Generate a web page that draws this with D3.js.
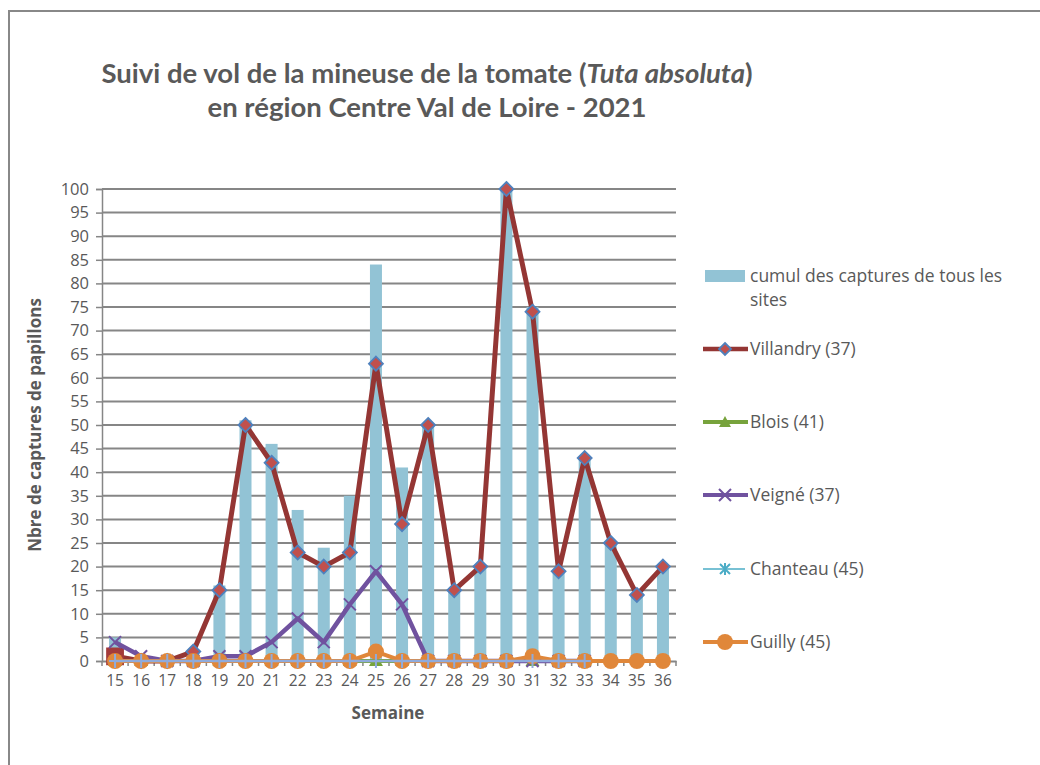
<!DOCTYPE html>
<html><head><meta charset="utf-8">
<script src="https://cdn.jsdelivr.net/npm/d3@7"></script>
<style>body{margin:0;background:#fff;} text{font-family:Lato,"Open Sans",sans-serif;}</style>
</head><body>
<svg id="c" width="1040" height="765"></svg>
<script>
const weeks = [15,16,17,18,19,20,21,22,23,24,25,26,27,28,29,30,31,32,33,34,35,36];
const cumul     = [5,1,0,2,16,51,46,32,24,35,84,41,50,15,20,100,75,19,43,25,14,20];
const villandry = [1,0,0,2,15,50,42,23,20,23,63,29,50,15,20,100,74,19,43,25,14,20];
const blois     = [0,0,0,0,0,0,0,0,0,0,0,0,0,0,0,0,0,0,0,null,null,null];
const veigne    = [4,1,0,0,1,1,4,9,4,12,19,12,0,0,0,0,0,0,0,null,null,null];
const chanteau  = [0,0,0,0,0,0,0,0,0,0,0,0,0,0,0,0,0,0,0,null,null,null];
const guilly    = [0,0,0,0,0,0,0,0,0,0,2,0,0,0,0,0,1,0,0,0,0,0];
const yTicks = d3.range(0,101,5);

const svg = d3.select("#c");
const grey = "#595959";
// outer border
svg.append("rect").attr("x",9).attr("y",11).attr("width",1100).attr("height",900)
  .attr("fill","none").attr("stroke","#888").attr("stroke-width",2);

const L=102, R=676, T=189, B=661;
const x = d3.scaleBand().domain(weeks).range([L,R]);
const y = d3.scaleLinear().domain([0,100]).range([B,T]);

// gridlines
svg.append("g").selectAll("line").data(yTicks.filter(d=>d>0)).join("line")
  .attr("x1",L).attr("x2",R).attr("y1",d=>y(d)).attr("y2",d=>y(d))
  .attr("stroke","#868686").attr("stroke-width",2);

// y axis
const ya = svg.append("g").attr("transform",`translate(${L},0)`)
  .call(d3.axisLeft(y).tickValues(yTicks).tickSize(6).tickPadding(7));
ya.select(".domain").attr("stroke","#868686").attr("stroke-width",1.5);
ya.selectAll(".tick line").attr("stroke","#868686").attr("stroke-width",1.5);
ya.selectAll("text").attr("fill",grey).style("font-size","16.5px").style("font-family","'Open Sans',sans-serif");

// bars
const bw = 12;
svg.append("g").selectAll("rect").data(weeks).join("rect")
  .attr("x",(d)=>x(d)+x.bandwidth()/2-bw/2).attr("width",bw)
  .attr("y",(d,i)=>y(cumul[i])).attr("height",(d,i)=>B-y(cumul[i]))
  .attr("fill","#92c3d5");

// x axis
const xa = svg.append("g").attr("transform",`translate(0,${B})`)
  .call(d3.axisBottom(x).tickSize(0).tickPadding(14));
xa.select(".domain").attr("stroke","#868686").attr("stroke-width",2);
xa.selectAll("text").attr("fill",grey).style("font-size","15.5px").style("font-family","'Open Sans',sans-serif");
svg.append("g").selectAll("line").data(d3.range(weeks.length+1)).join("line")
  .attr("x1",i=>L+i*x.bandwidth()).attr("x2",i=>L+i*x.bandwidth())
  .attr("y1",B).attr("y2",B+5).attr("stroke","#868686").attr("stroke-width",1.5);

const cx = d=>x(d)+x.bandwidth()/2;
function lineOf(vals){
  return d3.line().defined(d=>d[1]!=null).x(d=>cx(d[0])).y(d=>y(d[1]))(weeks.map((w,i)=>[w,vals[i]]));
}
function pts(vals){ return weeks.map((w,i)=>[w,vals[i]]).filter(d=>d[1]!=null); }

// Villandry
svg.append("path").attr("d",lineOf(villandry)).attr("fill","none").attr("stroke","#943634").attr("stroke-width",5).attr("stroke-linejoin","round");
svg.append("g").selectAll("path").data(pts(villandry)).join("path")
  .attr("transform",d=>`translate(${cx(d[0])},${y(d[1])})`)
  .attr("d",(d,i)=> i===0 ? "M-8,-8H8V8H-8Z" : "M0,-7L7,0L0,7L-7,0Z")
  .attr("fill",(d,i)=> i===0 ? "#a33b3b" : "#c0504d").attr("stroke",(d,i)=>i===0?"#a33b3b":"#4f81bd").attr("stroke-width",1.8);

// Blois
svg.append("path").attr("d",lineOf(blois)).attr("fill","none").attr("stroke","#77a33c").attr("stroke-width",4);
svg.append("g").selectAll("path").data(pts(blois)).join("path")
  .attr("transform",d=>`translate(${cx(d[0])},${y(d[1])})`)
  .attr("d","M0,-7L7,5H-7Z").attr("fill","#77a33c");

// Veigné
svg.append("path").attr("d",lineOf(veigne)).attr("fill","none").attr("stroke","#70529f").attr("stroke-width",4.5).attr("stroke-linejoin","round");
svg.append("g").selectAll("path").data(pts(veigne)).join("path")
  .attr("transform",d=>`translate(${cx(d[0])},${y(d[1])})`)
  .attr("d","M-6,-6L6,6M-6,6L6,-6").attr("stroke","#70529f").attr("stroke-width",2);

// Guilly
svg.append("path").attr("d",lineOf(guilly)).attr("fill","none").attr("stroke","#e0873a").attr("stroke-width",4);
svg.append("g").selectAll("circle").data(pts(guilly)).join("circle")
  .attr("cx",d=>cx(d[0])).attr("cy",d=>y(d[1])).attr("r",8).attr("fill","#e0873a");

// Chanteau
svg.append("path").attr("d",lineOf(chanteau)).attr("fill","none").attr("stroke","#8fabdc").attr("stroke-width",2.5);
svg.append("g").selectAll("path").data(pts(chanteau)).join("path")
  .attr("transform",d=>`translate(${cx(d[0])},${y(d[1])})`)
  .attr("d","M0,-7V7M-6,0H6").attr("stroke","#8fabdc").attr("stroke-width",2);

// Titles
const title = svg.append("text").attr("x",427).attr("y",83).attr("text-anchor","middle")
  .attr("fill",grey).style("font-size","27.5px").style("font-weight","bold");
title.append("tspan").text("Suivi de vol de la mineuse de la tomate (");
title.append("tspan").text("Tuta absoluta").style("font-style","italic");
title.append("tspan").text(")");
svg.append("text").attr("x",427).attr("y",117).attr("text-anchor","middle")
  .attr("fill",grey).style("font-size","27.5px").style("font-weight","bold")
  .text("en région Centre Val de Loire - 2021");

svg.append("text").attr("transform","translate(41,425) rotate(-90)").attr("text-anchor","middle")
  .attr("fill",grey).style("font-size","17px").style("font-weight","bold").style("font-family","'Open Sans',sans-serif")
  .text("Nbre de captures de papillons");
svg.append("text").attr("x",388).attr("y",719).attr("text-anchor","middle")
  .attr("fill",grey).style("font-size","17px").style("font-weight","bold").style("font-family","'Open Sans',sans-serif")
  .text("Semaine");

// Legend
const lg = svg.append("g");
const lx = 703, tx = 750;
lg.append("rect").attr("x",705).attr("y",270).attr("width",40).attr("height",12).attr("fill","#92c3d5");
const lt = (yy,t)=>lg.append("text").attr("x",tx).attr("y",yy).attr("fill",grey).style("font-size","17.5px").style("font-family","'Open Sans',sans-serif").text(t);
lt(282,"cumul des captures de tous les");
lt(306,"sites");
const items = [
  {name:"Villandry (37)", y:349},
  {name:"Blois (41)", y:422},
  {name:"Veigné (37)", y:495},
  {name:"Chanteau (45)", y:569},
  {name:"Guilly (45)", y:642}
];
items.forEach(it=>lt(it.y+6,it.name));
const mx = 725;
lg.append("line").attr("x1",lx).attr("x2",lx+45).attr("y1",349).attr("y2",349).attr("stroke","#943634").attr("stroke-width",4.5);
lg.append("path").attr("transform",`translate(${mx},349)`).attr("d","M0,-6L6,0L0,6L-6,0Z").attr("fill","#c0504d").attr("stroke","#4f81bd").attr("stroke-width",1.8);
lg.append("line").attr("x1",lx).attr("x2",lx+45).attr("y1",422).attr("y2",422).attr("stroke","#77a33c").attr("stroke-width",4);
lg.append("path").attr("transform",`translate(${mx},422)`).attr("d","M0,-6L6,5H-6Z").attr("fill","#77a33c");
lg.append("line").attr("x1",lx).attr("x2",lx+45).attr("y1",495).attr("y2",495).attr("stroke","#70529f").attr("stroke-width",4);
lg.append("path").attr("transform",`translate(${mx},495)`).attr("d","M-6,-6L6,6M-6,6L6,-6").attr("stroke","#70529f").attr("stroke-width",2);
lg.append("line").attr("x1",lx).attr("x2",lx+42).attr("y1",569).attr("y2",569).attr("stroke","#4bacc6").attr("stroke-width",1.5);
lg.append("path").attr("transform",`translate(${mx},569)`).attr("d","M-5,-5L5,5M-5,5L5,-5M0,-6V6").attr("stroke","#4bacc6").attr("stroke-width",2);
lg.append("line").attr("x1",lx).attr("x2",lx+45).attr("y1",642).attr("y2",642).attr("stroke","#e0873a").attr("stroke-width",4);
lg.append("circle").attr("cx",mx).attr("cy",642).attr("r",8).attr("fill","#e0873a");
</script>
</body></html>
